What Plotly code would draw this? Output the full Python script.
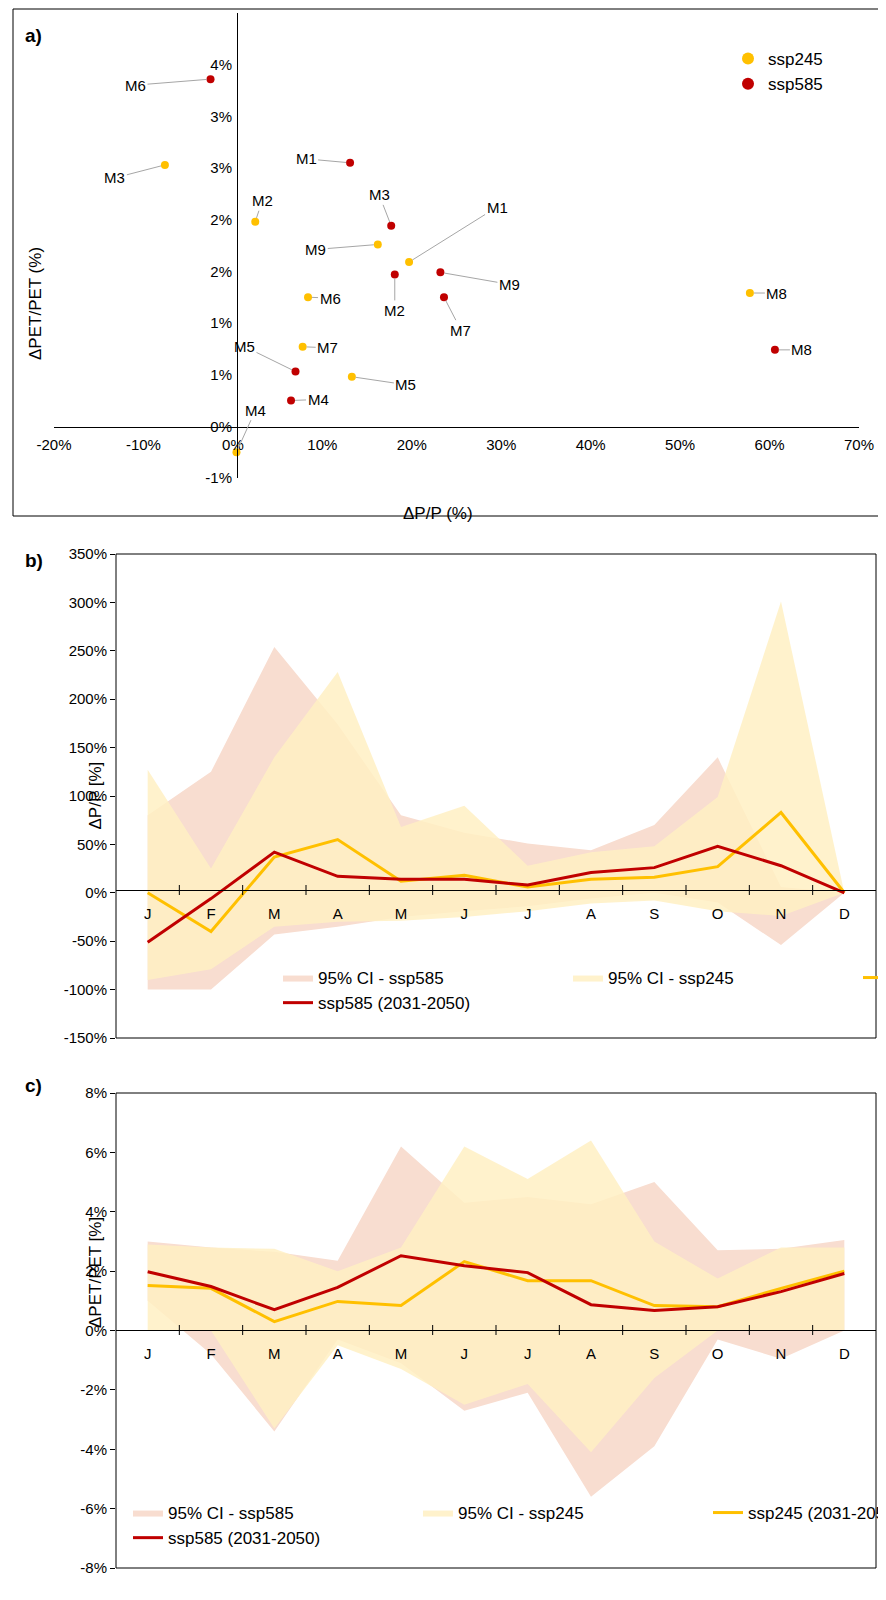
import plotly.graph_objects as go

W, H = 886, 1600
def px(x): return x / W
def py(y): return 1 - y / H

# ---- Panel a data
models = ["M1","M2","M3","M4","M5","M6","M7","M8","M9"]
dp245 = [19.7, 2.5, -7.6, 0.4, 13.3, 8.4, 7.8, 57.8, 16.2]
dpet245 = [1.59, 1.98, 2.53, -0.25, 0.48, 1.25, 0.77, 1.29, 1.76]
dp585 = [13.1, 18.1, 17.7, 6.5, 7.0, -2.5, 23.6, 60.6, 23.2]
dpet585 = [2.55, 1.47, 1.94, 0.25, 0.53, 3.36, 1.25, 0.74, 1.49]
off245 = {"M1":(88,-55),"M2":(7,-21),"M3":(-50,13),"M4":(19,-42),"M5":(54,8),
          "M6":(22,1),"M7":(25,1),"M8":(27,0),"M9":(-62,5)}
off585 = {"M1":(-44,-4),"M2":(0,36),"M3":(-12,-31),"M4":(27,-1),"M5":(-51,-25),
          "M6":(-75,6),"M7":(17,33),"M8":(27,0),"M9":(69,12)}
xa_vals = [-20,-10,0,10,20,30,40,50,60,70]
xa_text = ["-20%","-10%","0%","10%","20%","30%","40%","50%","60%","70%"]
ya_vals = [-0.5,0,0.5,1,1.5,2,2.5,3,3.5,4]
ya_text = ["-1%","0%","1%","1%","2%","2%","3%","3%","4%","4%"]

# ---- Panels b, c data
months = ["J","F","M","A","M","J","J","A","S","O","N","D"]
b245 = [0,-40,37,55,12,18,6,14,16,27,83,0]
b585 = [-51,-6,42,17,14,14,8,21,26,48,28,0]
b245_up = [127,25,140,228,68,90,28,42,48,99,301,0]
b245_lo = [-90,-79,-35,-30,-29,-25,-19,-11,-8,-19,-24,0]
b585_up = [80,125,254,174,80,62,51,44,70,140,6,0]
b585_lo = [-100,-100,-43,-35,-25,-19,-14,-6,0,-10,-54,0]
yb_vals = [-150,-100,-50,0,50,100,150,200,250,300,350]
yb_text = ["-150%","-100%","-50%","0%","50%","100%","150%","200%","250%","300%","350%"]

c245 = [1.52,1.42,0.3,0.98,0.84,2.32,1.68,1.68,0.84,0.8,1.42,2.0]
c585 = [1.98,1.48,0.7,1.45,2.52,2.18,1.95,0.87,0.67,0.8,1.31,1.92]
c245_up = [2.9,2.8,2.75,2.0,2.8,6.2,5.1,6.4,3.0,1.75,2.8,2.8]
c245_lo = [0,0,-3.3,-0.5,-1.3,-2.5,-1.8,-4.1,-1.6,0,0,0]
c585_up = [3.0,2.8,2.65,2.35,6.2,4.3,4.5,4.25,5.0,2.7,2.75,3.05]
c585_lo = [1.0,-0.8,-3.4,-0.3,-1.1,-2.7,-2.1,-5.6,-3.9,-0.3,-0.95,0]
yc_vals = [-8,-6,-4,-2,0,2,4,6,8]
yc_text = ["-8%","-6%","-4%","-2%","0%","2%","4%","6%","8%"]

ORANGE, RED = "#FFC000", "#C00000"
PINK, YEL = "rgb(248,221,208)", "rgba(255,240,195,0.85)"
FONT = "Liberation Sans, Arial, sans-serif"

fig = go.Figure()
fig.add_trace(go.Scatter(x=dp245, y=dpet245, mode="markers", name="ssp245",
    marker=dict(color=ORANGE, size=8), xaxis="x", yaxis="y", legend="legend"))
fig.add_trace(go.Scatter(x=dp585, y=dpet585, mode="markers", name="ssp585",
    marker=dict(color=RED, size=8), xaxis="x", yaxis="y", legend="legend"))

idx = list(range(12))
def band(up, lo, color, name, xa, ya, lg):
    fig.add_trace(go.Scatter(x=idx + idx[::-1], y=up + lo[::-1], fill="toself",
        fillcolor=color, line=dict(width=0), mode="lines", name=name,
        xaxis=xa, yaxis=ya, legend=lg, hoverinfo="skip"))
def line(vals, color, name, xa, ya, lg):
    fig.add_trace(go.Scatter(x=idx, y=vals, mode="lines", name=name,
        line=dict(color=color, width=3), xaxis=xa, yaxis=ya, legend=lg))

band(b585_up, b585_lo, PINK, "95% CI - ssp585", "x2", "y2", "legend2")
band(b245_up, b245_lo, YEL, "95% CI - ssp245", "x2", "y2", "legend2")
line(b245, ORANGE, "ssp245 (2031-2050)", "x2", "y2", "legend2")
line(b585, RED, "ssp585 (2031-2050)", "x2", "y2", "legend2")
band(c585_up, c585_lo, PINK, "95% CI - ssp585", "x3", "y3", "legend3")
band(c245_up, c245_lo, YEL, "95% CI - ssp245", "x3", "y3", "legend3")
line(c245, ORANGE, "ssp245 (2031-2050)", "x3", "y3", "legend3")
line(c585, RED, "ssp585 (2031-2050)", "x3", "y3", "legend3")

ann = []
for mods, xs, ys, offs in [(models, dp245, dpet245, off245), (models, dp585, dpet585, off585)]:
    for m, x, y in zip(mods, xs, ys):
        ax, ay = offs[m]
        ann.append(dict(x=x, y=y, xref="x", yref="y", text=m, ax=ax, ay=ay, showarrow=True,
                        arrowhead=0, arrowwidth=1, arrowcolor="#A6A6A6", standoff=4,
                        font=dict(size=15, color="black")))
def txt(x, y, t, size=16, bold=False, angle=0):
    ann.append(dict(x=px(x), y=py(y), xref="paper", yref="paper", showarrow=False,
                    text=f"<b>{t}</b>" if bold else t, textangle=angle,
                    font=dict(size=size, color="black")))
txt(15, 15, "a)", 19, True); txt(15, 552, "b)", 19, True); txt(15, 1090, "c)", 19, True)
txt(430, 494, "ΔP/P (%)", 17)
txt(16, 237, "ΔPET/PET (%)", 17, angle=-90)
txt(76, 788, "ΔP/P [%]", 17, angle=-90)
txt(76, 1322, "ΔPET/PET [%]", 17, angle=-90)

shapes = [
    dict(type="rect", xref="paper", yref="paper", x0=px(5), x1=px(880), y0=py(508), y1=py(1),
         line=dict(color="black", width=1)),
    dict(type="rect", xref="paper", yref="paper", x0=px(108), x1=px(868), y0=py(1030), y1=py(546),
         line=dict(color="black", width=1)),
    dict(type="rect", xref="paper", yref="paper", x0=px(108), x1=px(868), y0=py(1560), y1=py(1085),
         line=dict(color="black", width=1)),
]
for pos in [882, 1322]:
    for i in range(1, 12):
        xpix = 108 + i * (760 / 12)
        shapes.append(dict(type="line", xref="paper", yref="paper", x0=px(xpix), x1=px(xpix),
                           y0=py(pos - 5), y1=py(pos + 5), line=dict(color="black", width=1)))

ax_common = dict(showgrid=False, zeroline=False, color="black", tickfont=dict(size=15),
                 automargin=False)
fig.update_layout(
    width=W, height=H, margin=dict(l=0, r=0, t=0, b=0, autoexpand=False),
    paper_bgcolor="white", plot_bgcolor="white",
    font=dict(family=FONT, color="black"),
    annotations=ann, shapes=shapes,
    xaxis=dict(**ax_common, domain=[px(46), px(851)], range=[-20, 70], tickvals=xa_vals,
               ticktext=xa_text, anchor="free", position=py(419), showline=True,
               linecolor="black", ticks="outside", ticklen=4, tickcolor="rgba(0,0,0,0)"),
    yaxis=dict(**ax_common, domain=[py(470), py(5)], range=[-0.5, 4], tickvals=ya_vals,
               ticktext=ya_text, anchor="free", position=px(229), showline=True,
               linecolor="black", ticks="outside", ticklen=2, tickcolor="rgba(0,0,0,0)"),
    xaxis2=dict(**ax_common, domain=[px(108), px(868)], range=[-0.5, 11.5],
                tickvals=idx, ticktext=months, anchor="free", position=py(882),
                showline=True, linecolor="black", ticks="outside", ticklen=10,
                tickcolor="rgba(0,0,0,0)"),
    yaxis2=dict(**ax_common, domain=[py(1030), py(546)], range=[-150, 350],
                tickvals=yb_vals, ticktext=yb_text, anchor="x2", showline=False,
                ticks="outside", ticklen=5, tickcolor="black"),
    xaxis3=dict(**ax_common, domain=[px(108), px(868)], range=[-0.5, 11.5],
                tickvals=idx, ticktext=months, anchor="free", position=py(1322),
                showline=True, linecolor="black", ticks="outside", ticklen=10,
                tickcolor="rgba(0,0,0,0)"),
    yaxis3=dict(**ax_common, domain=[py(1560), py(1085)], range=[-8, 8],
                tickvals=yc_vals, ticktext=yc_text, anchor="x3", showline=False,
                ticks="outside", ticklen=5, tickcolor="black"),
    legend=dict(x=px(720), y=py(33), xanchor="left", yanchor="top",
                font=dict(size=17), bgcolor="rgba(0,0,0,0)", itemsizing="constant"),
    legend2=dict(x=px(270), y=py(952), xanchor="left", yanchor="top", orientation="h",
                 entrywidth=245, font=dict(size=17), bgcolor="rgba(0,0,0,0)"),
    legend3=dict(x=px(120), y=py(1487), xanchor="left", yanchor="top", orientation="h",
                 entrywidth=245, font=dict(size=17), bgcolor="rgba(0,0,0,0)"),
)
fig.write_html("out.html")
